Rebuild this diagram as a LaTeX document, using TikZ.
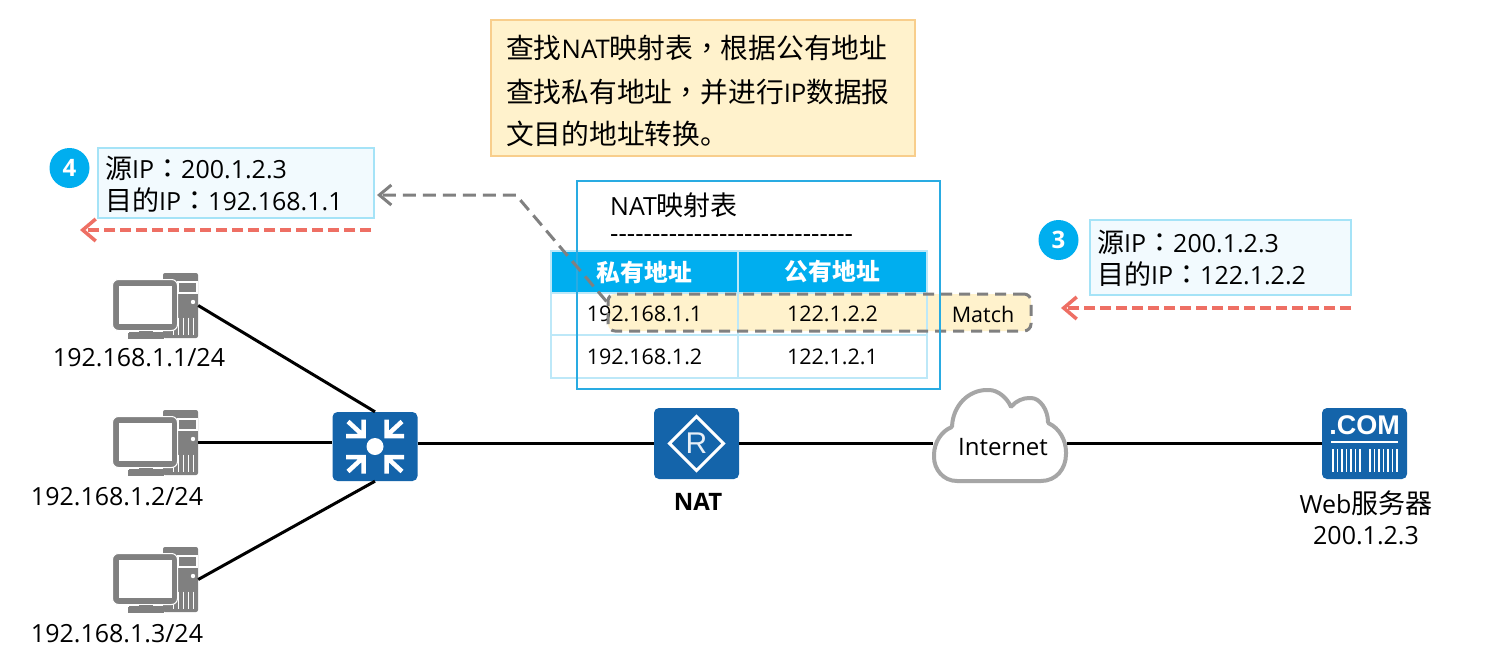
\documentclass[tikz,border=0pt]{standalone}
\usepackage{fontspec}
\setmainfont{Open Sans}
\newfontfamily\plainfont{Open Sans}
\newfontfamily\cjk[Scale=1.08]{Noto Sans CJK SC}
\newfontfamily\cjkp[Scale=1.08]{Noto Sans CJK TC}
\newfontfamily\iconfont{Liberation Sans}
\usetikzlibrary{arrows.meta}
\newcommand{\zh}[1]{{\cjk #1}}
\newcommand{\zp}[1]{{\cjkp #1}}
\newcommand{\fs}[1]{\fontsize{#1}{#1}\selectfont}
\definecolor{huawei}{HTML}{1464AA}
\definecolor{sky}{HTML}{00AEEF}
\definecolor{framecol}{HTML}{29ABE2}
\definecolor{tablecol}{HTML}{BDE8F8}
\definecolor{pktfill}{HTML}{F2FAFE}
\definecolor{pktline}{HTML}{A5E3F7}
\definecolor{notefill}{HTML}{FFF2CC}
\definecolor{noteline}{HTML}{F8CE8C}
\definecolor{redflow}{HTML}{EE6F64}
\definecolor{grayflow}{HTML}{808080}
\tikzset{
	link/.style={line width=3, black},
	device/.style={fill=huawei, rounded corners=5, minimum width=85, minimum height=70, inner sep=0},
	pcbox/.style={minimum width=85, minimum height=65, inner sep=0},
	iplabel/.style={inner sep=0, font=\fs{25}},
	notetext/.style={anchor=west, inner sep=0, font=\fs{25.7}},
	pktbox/.style={draw=pktline, fill=pktfill, line width=2, inner sep=0},
	pkttext/.style={inner sep=0, font=\fs{25}, anchor=west},
	stepmark/.style={circle, fill=sky, text=white, minimum size=40, inner sep=0, font=\fs{24}\bfseries},
	redarrow/.style={redflow, line width=3.5, dash pattern=on 11 off 5, -{Straight Barb[length=13pt,width=22pt]}},
	grayarrow/.style={grayflow, line width=3, dash pattern=on 13 off 7, -{Straight Barb[length=12pt,width=20pt]}},
	tcell/.style={draw=tablecol, line width=2, inner sep=0, font=\fs{21.5}},
	thead/.style={tcell, fill=sky, text=white, font=\fs{22}\bfseries},
	pcicon/.pic={
		\fill[grayflow, rounded corners=2] (7.5,-32.5) rectangle (42.5,32.5);
		\draw[white, line width=1.2] (22.5,-23.5) rectangle (41.5,-12.5);
		\fill[white] (37.5,-3.5) circle (2.2);
		\foreach \vx in {18,23,28,33,38}
			\draw[white, line width=1.3] (\vx,12) -- (\vx,29);
		\draw[grayflow, fill=grayflow, line width=0, rounded corners=1] (-27,27) rectangle (8,33);
		\draw[white, line width=1, fill=grayflow, rounded corners=6] (-43,-26) rectangle (22,25);
		\fill[white] (-36.5,-19.5) rectangle (16.5,18.5);
		\draw[grayflow, line width=1, fill=grayflow] (-16,25.5) rectangle (-3,28);
	},
}

\begin{document}
\begin{tikzpicture}[x=1pt, y=-1pt]
	%%%%% START %%%%%
	\useasboundingbox (0, 0) rectangle (1489, 659);
	\fill[white] (0, 0) rectangle (1489, 659);

	\node[draw=noteline, fill=notefill, line width=2, minimum width=424, minimum height=136, inner sep=0] (notebox) at (703, 88) {};
	\node[notetext] (notel1) at (506, 48) {\zh{查找}NAT\zh{映射表}\zp{，}\zh{根据公有地址}};
	\node[notetext] (notel2) at (506, 92) {\zh{查找私有地址}\zp{，}\zh{并进行}IP\zh{数据报}};
	\node[notetext] (notel3) at (506, 134) {\zh{文目的地址转换。}};

	%%%%% table %%%%%
	\node[anchor=west, inner sep=0, font=\fs{25}] (nattitle) at (610, 205) {NAT\zh{映射表}};
	\node[anchor=west, inner sep=0, font=\plainfont\fs{26}] (natrule) at (610, 239) {-----------------------------};

	\node[fill=notefill, rounded corners=7, minimum width=423, minimum height=37, inner sep=0] (matchband) at (819.5, 312.5) {};

	\node[thead, minimum width=187, minimum height=42] (head1) at (644.5, 272) {\zh{\bfseries 私有地址}};
	\node[thead, minimum width=189, minimum height=42] (head2) at (832.5, 272) {\zh{\bfseries 公有地址}};
	\node[tcell, minimum width=187, minimum height=42] (c11) at (644.5, 314) {192.168.1.1};
	\node[tcell, minimum width=189, minimum height=42] (c12) at (832.5, 314) {122.1.2.2};
	\node[tcell, minimum width=187, minimum height=43] (c21) at (644.5, 356.5) {192.168.1.2};
	\node[tcell, minimum width=189, minimum height=43] (c22) at (832.5, 356.5) {122.1.2.1};
	\node[inner sep=0, font=\fs{21.5}] (matchtext) at (983, 314) {Match};
	\node[draw=grayflow, line width=3, dash pattern=on 11 off 7, rounded corners=7, minimum width=423, minimum height=37, inner sep=0] (match) at (819.5, 312.5) {};
	\node[draw=framecol, line width=2, minimum width=363, minimum height=208, inner sep=0] (natframe) at (758.5, 285) {};

	%%%%% packets %%%%%
	\node[pktbox, minimum width=276, minimum height=70] (pkt4) at (236, 183) {};
	\node[pkttext] (pkt4l1) at (105, 168) {\zh{源}IP\zp{：}200.1.2.3};
	\node[pkttext] (pkt4l2) at (105, 200) {\zh{目的}IP\zp{：}192.168.1.1};
	\node[stepmark] (mark4) at (69.5, 168) {4};
	\coordinate (red4a) at (371, 230);
	\coordinate (red4b) at (80, 230);
	\draw[redarrow] (red4a) -- (red4b);

	\node[pktbox, minimum width=261, minimum height=75] (pkt3) at (1220.5, 257.5) {};
	\node[pkttext] (pkt3l1) at (1097, 242) {\zh{源}IP\zp{：}200.1.2.3};
	\node[pkttext] (pkt3l2) at (1097, 274) {\zh{目的}IP\zp{：}122.1.2.2};
	\node[stepmark] (mark3) at (1058.5, 240) {3};
	\coordinate (red3a) at (1351, 308);
	\coordinate (red3b) at (1061, 308);
	\draw[redarrow] (red3a) -- (red3b);

	\coordinate (graybend) at (516, 195);
	\coordinate (graytip) at (377, 195);
	\draw[grayarrow] ([yshift=-9]match.north west) -- (graybend) -- (graytip);

	%%%%% devices %%%%%
	\node[pcbox] (pc1) at (155.5, 305.5) {};
	\node[pcbox] (pc2) at (155.5, 442.5) {};
	\node[pcbox] (pc3) at (155.5, 579.5) {};
	\foreach \pcname in {pc1, pc2, pc3}
		\pic at (\pcname) {pcicon};
	\node[iplabel] (ip1) at (139, 358) {192.168.1.1/24};
	\node[iplabel] (ip2) at (117, 497) {192.168.1.2/24};
	\node[iplabel] (ip3) at (117, 634) {192.168.1.3/24};

	\node[device, minimum height=69] (sw) at (375, 446.5) {};
	\fill[white] (sw.center) circle (8.5);
	\foreach \sx/\sy in {1/1, -1/1, 1/-1, -1/-1}
		\draw[white, line width=4.5, xshift=375, yshift=-446.5, xscale=\sx, yscale=\sy]
			(-29, -10.5) -- (-11.5, -10.5) -- (-11.5, -27) (-27, -25) -- (-14, -13);

	\node[device, minimum height=71] (nat) at (696.5, 443.5) {};
	\draw[white, line width=3] ([xshift=-27]nat.center) -- ([yshift=-27]nat.center) -- ([xshift=27]nat.center) -- ([yshift=27]nat.center) -- cycle;
	\node[inner sep=0, text=white!90!huawei, font=\iconfont\fs{30}] (natR) at (nat.center) {R};
	\node[inner sep=0, font=\fs{24}\bfseries] (natname) at (698, 502) {NAT};

	\node[minimum width=134, minimum height=30, inner sep=0, font=\fs{24}] (cloud) at (1000, 447) {\hspace*{6pt}Internet};
	\draw[gray!70, line width=4, rounded corners=1]
		(958, 481) .. controls (943, 481) and (934, 469) .. (934, 456)
		.. controls (934, 442) and (942, 431) .. (952, 427)
		.. controls (953, 406) and (968, 390) .. (988, 390)
		.. controls (998, 390) and (1007, 398) .. (1011, 407)
		.. controls (1016, 401) and (1023, 398) .. (1030, 398)
		.. controls (1040, 398) and (1048, 410) .. (1048, 423)
		.. controls (1059, 428) and (1066, 440) .. (1066, 453)
		.. controls (1066, 469) and (1056, 481) .. (1040, 481) -- cycle;

	\node[device, minimum height=71] (web) at (1364.5, 443.5) {};
	\node[inner sep=0, text=white, font=\iconfont\fs{27}\bfseries] (webcom) at (1364.5, 425.5) {.COM};
	\draw[white, line width=2] (1331, 442) -- (1398, 442);
	\foreach \bx in {1333, 1337.5, 1342, 1346.5, 1351, 1355.5, 1360, 1370, 1374.5, 1379, 1383.5, 1388, 1392.5, 1397}
		\draw[white, line width=1.8] (\bx, 449) -- (\bx, 472);
	\node[inner sep=0, font=\fs{25}] (webname) at (1366, 503) {Web\zh{服务器}};
	\node[inner sep=0, font=\fs{25}] (webip) at (1366, 536) {200.1.2.3};

	%%%%% links %%%%%
	\draw[link] (pc1.east) -- (sw.north);
	\draw[link] (pc2.east) -- (pc2.east -| sw.west);
	\draw[link] (pc3.east) -- (sw.south);
	\draw[link] (nat.west -| sw.east) -- (nat.west);
	\draw[link] (nat.east) -- (nat.east -| cloud.west);
	\draw[link] (nat.east -| cloud.east) -- (web.west);
	%%%%% END %%%%%
\end{tikzpicture}
\end{document}
